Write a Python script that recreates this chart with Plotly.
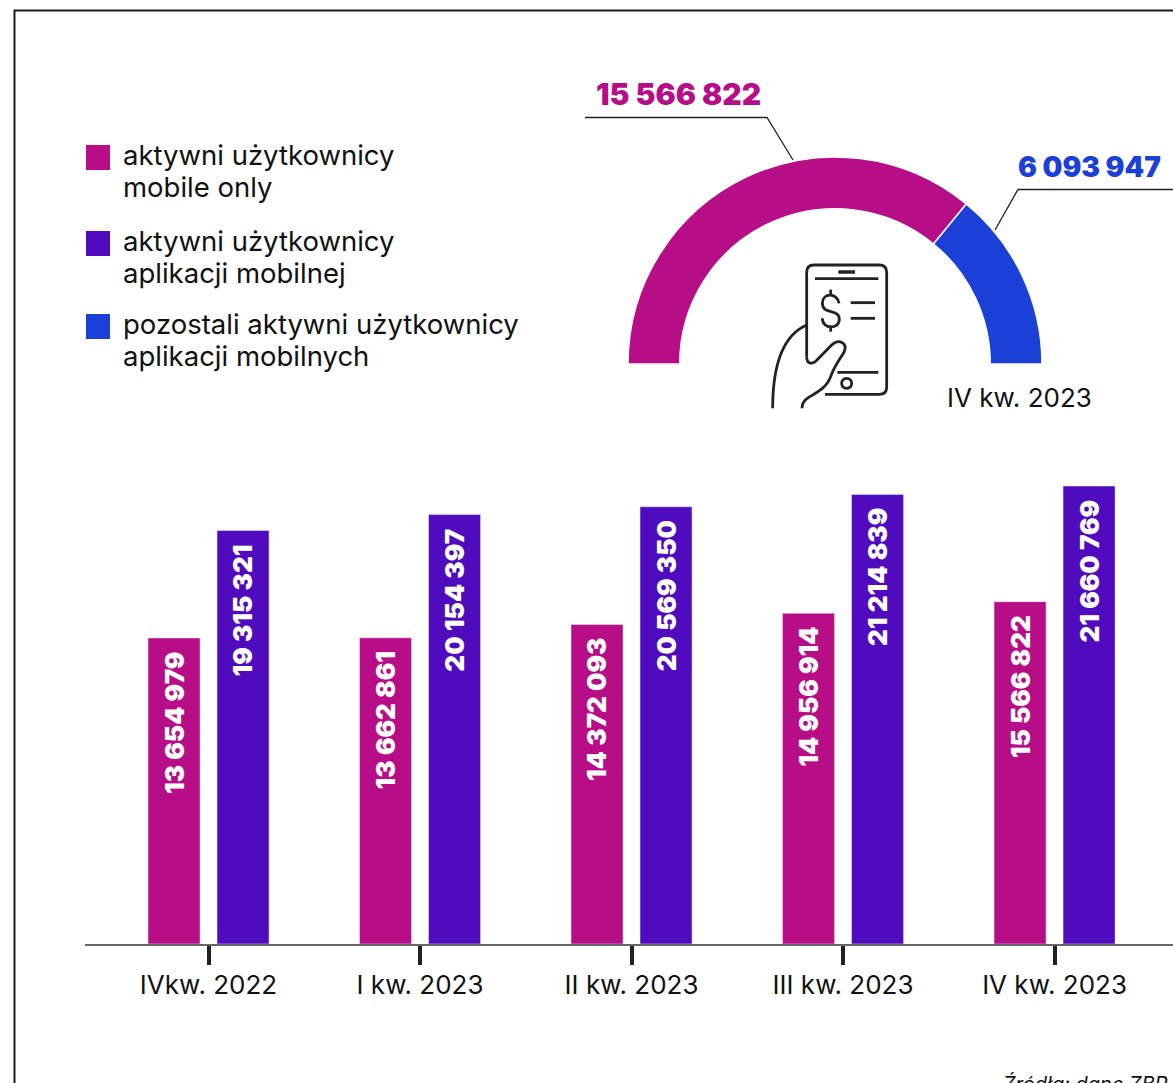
import plotly.graph_objects as go

W, H = 1173, 1083

# ---------- data ----------
quarters = ["IVkw. 2022", "I kw. 2023", "II kw. 2023", "III kw. 2023", "IV kw. 2023"]
mobile_only = [13654979, 13662861, 14372093, 14956914, 15566822]
mobile_app = [19315321, 20154397, 20569350, 21214839, 21660769]
gauge_mobile_only = 15566822
gauge_other = 6093947
legend_labels = [
    ("aktywni użytkownicy", "mobile only"),
    ("aktywni użytkownicy", "aplikacji mobilnej"),
    ("pozostali aktywni użytkownicy", "aplikacji mobilnych"),
]
AXIS_FLOOR = -2462000  # the reference's bars rest on a non-zero floor
AXIS_CEIL = 47260000

MAGENTA = "#B70E88"
PURPLE = "#500BBE"
BLUE = "#1A40D8"
DARK = "#222222"
FONT = "Inter"


def px(x):
    return x / W


def py(y):
    return 1 - y / H


def fmt(v):
    return f"{v:,}".replace(",", " ")


fig = go.Figure()
fig.add_bar(
    x=quarters,
    y=[v - AXIS_FLOOR for v in mobile_only],
    base=AXIS_FLOOR,
    marker_color=MAGENTA,
    name="aktywni użytkownicy mobile only",
)
fig.add_bar(
    x=quarters,
    y=[v - AXIS_FLOOR for v in mobile_app],
    base=AXIS_FLOOR,
    marker_color=PURPLE,
    name="aktywni użytkownicy aplikacji mobilnej",
)
fig.add_pie(
    values=[gauge_mobile_only, gauge_other, gauge_mobile_only + gauge_other],
    sort=False,
    direction="clockwise",
    rotation=-90,
    hole=0.75,
    textinfo="none",
    hoverinfo="skip",
    marker=dict(
        colors=[MAGENTA, BLUE, "rgba(0,0,0,0)"],
        line=dict(color=["white", "white", "rgba(0,0,0,0)"], width=1.5),
    ),
    domain=dict(x=[px(628), px(1042)], y=[py(571), py(157)]),
    showlegend=False,
)

annotations = []
for values, shift in ((mobile_only, -34.5), (mobile_app, 34.5)):
    for q, v in zip(quarters, values):
        annotations.append(dict(
            x=q, y=v, xref="x", yref="y", xshift=shift, yshift=-12,
            text=fmt(v), textangle=-90, showarrow=False,
            xanchor="center", yanchor="top",
            font=dict(family=FONT, size=26, color="white", weight=900),
        ))


def label(x, y, text, size=26, color="#111111", weight=400, xanchor="left", style="normal"):
    annotations.append(dict(
        x=px(x), y=py(y), xref="paper", yref="paper", text=text, showarrow=False,
        xanchor=xanchor, yanchor="middle", align="left",
        font=dict(family=FONT, size=size, color=color, weight=weight, style=style),
    ))


LEGEND_LINE_Y = [(155, 187), (241, 273), (324, 356)]
for (first, second), (y1, y2) in zip(legend_labels, LEGEND_LINE_Y):
    label(121, y1, first, size=27.5)
    label(121, y2, second, size=27.5)
label(594, 94, fmt(gauge_mobile_only), size=30, color=MAGENTA, weight=900)
label(1016, 167, fmt(gauge_other), size=28, color=BLUE, weight=900)
label(945, 397, "IV kw. 2023")
label(1001, 1084, "Źródła: dane ZBP", size=20, style="italic")

shapes = []


def rect(x0, y0, x1, y1, color):
    shapes.append(dict(type="rect", xref="paper", yref="paper", x0=px(x0), x1=px(x1),
                       y0=py(y0), y1=py(y1), fillcolor=color, line_width=0))


rect(86, 145, 110, 170, MAGENTA)
rect(86, 231, 110, 256, PURPLE)
rect(86, 314, 110, 339, BLUE)


def path(points, color=DARK, width=1.3):
    # points: SVG path tokens, tuples are page pixels
    d = " ".join(
        t if isinstance(t, str) else f"{px(t[0]):.5f},{py(t[1]):.5f}" for t in points
    )
    shapes.append(dict(type="path", xref="paper", yref="paper", path=d,
                       line=dict(color=color, width=width), fillcolor="rgba(0,0,0,0)"))


# frame and leader lines
path(["M", (14.5, H + 2), "L", (14.5, 10.5), "L", (W + 2, 10.5)], "#1a1a1a", 2)
path(["M", (585, 117.5), "L", (767, 117.5), "L", (793, 160)])
path(["M", (W + 2, 189.5), "L", (1018, 189.5), "L", (995, 230)])


# phone icon: local coordinates of a 3x sketch, placed at (760, 255)
def ic(x, y):
    return (760 + x / 3, 255 + y / 3)


def icon(*tokens, width=2.8):
    path([t if isinstance(t, str) else ic(*t) for t in tokens], DARK, width)


icon("M", (140, 305), "L", (140, 52), "Q", (140, 30), "", (162, 30), "L", (358, 30),
     "Q", (380, 30), "", (380, 52), "L", (380, 396), "Q", (380, 418), "", (358, 418), "L", (195, 418))
icon("M", (140, 305), "C", (140, 325), "", (155, 330), "", (168, 318), "L", (215, 270),
     "C", (235, 250), "", (265, 262), "", (252, 292), "C", (235, 320), "", (222, 335), "", (212, 365),
     "C", (200, 400), "", (165, 415), "", (145, 428), "C", (132, 436), "", (126, 448), "", (126, 460))
icon("M", (38, 460), "C", (38, 350), "", (60, 245), "", (140, 210))
icon("M", (235, 51), "L", (285, 51), width=3.5)
icon("M", (165, 71), "L", (355, 71))
icon("M", (272, 143), "L", (345, 143))
icon("M", (272, 190), "L", (345, 190))
icon("M", (232, 352), "L", (355, 352))
icon("M", (260, 370), "C", (280, 370), "", (280, 400), "", (260, 400),
     "C", (240, 400), "", (240, 370), "", (260, 370), "Z")
icon("M", (237, 145), "C", (232, 112), "", (187, 112), "", (187, 145),
     "C", (187, 180), "", (238, 160), "", (238, 193), "C", (238, 224), "", (187, 224), "", (187, 190))
icon("M", (212, 104), "L", (212, 122))
icon("M", (212, 212), "L", (212, 230))

fig.update_layout(
    width=W, height=H,
    margin=dict(l=0, r=0, t=0, b=0),
    paper_bgcolor="white", plot_bgcolor="rgba(0,0,0,0)",
    barmode="group", bargap=0.3475, bargroupgap=0.246,
    showlegend=False,
    annotations=annotations, shapes=shapes,
    xaxis=dict(
        domain=[px(85), 1], range=[-0.584, 4.56], type="category",
        showgrid=False, showline=True, linecolor="#666666", linewidth=2,
        ticks="outside", ticklen=19, tickwidth=4, tickcolor=DARK,
        tickfont=dict(family=FONT, size=26, color="#111111"),
        ticklabelstandoff=-2, zeroline=False,
    ),
    yaxis=dict(
        domain=[py(944), 1], range=[AXIS_FLOOR, AXIS_CEIL], visible=False,
        showgrid=False, zeroline=False,
    ),
)
fig.write_html(
    "out.html",
    config={"displayModeBar": False},
    post_script="document.body.style.margin='0';document.body.style.overflow='hidden';",
)
